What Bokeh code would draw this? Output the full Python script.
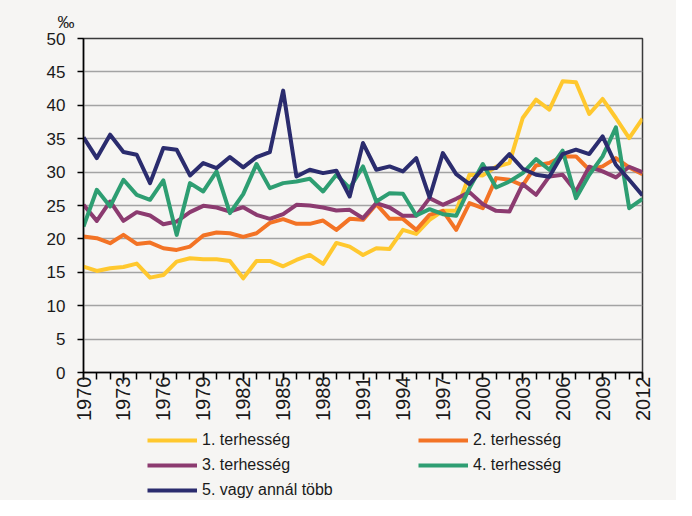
import math
from bokeh.plotting import figure
from bokeh.layouts import column
from bokeh.models import Range1d, FixedTicker, Legend, LegendItem
from bokeh.embed import file_html
from bokeh.resources import INLINE

years = list(range(1970, 2013))

first = [15.85, 15.2, 15.6, 15.8, 16.3, 14.2, 14.6, 16.6, 17.1, 16.95,
         16.95, 16.7, 14.1, 16.7, 16.7, 15.9, 16.85, 17.6, 16.25, 19.4,
         18.85, 17.6, 18.6, 18.5, 21.35, 20.75, 22.85, 24.2, 24.2, 29.6,
         29.5, 30.8, 31.35, 38.1, 40.85, 39.35, 43.6, 43.45, 38.7, 40.95,
         38.1, 35.1, 38.0]
second = [20.35, 20.1, 19.35, 20.6, 19.25, 19.45, 18.6, 18.35, 18.85, 20.5,
          20.95, 20.85, 20.3, 20.85, 22.4, 22.95, 22.25, 22.25, 22.75, 21.35,
          23.0, 22.85, 25.2, 23.0, 23.0, 21.35, 23.6, 24.2, 21.35, 25.35,
          24.6, 29.1, 28.85, 28.0, 31.0, 31.35, 32.35, 32.35, 30.35, 30.85,
          32.1, 30.7, 29.7]
third = [25.1, 22.7, 25.6, 22.7, 24.0, 23.5, 22.2, 22.6, 24.0, 24.95,
         24.7, 24.1, 24.75, 23.6, 23.0, 23.7, 25.1, 25.0, 24.7, 24.25,
         24.35, 23.1, 25.35, 24.7, 23.45, 23.45, 26.1, 25.1, 26.0, 27.0,
         25.2, 24.2, 24.1, 28.2, 26.6, 29.35, 29.6, 27.1, 30.8, 30.1,
         29.2, 30.8, 30.0]
fourth = [21.85, 27.35, 24.85, 28.85, 26.6, 25.85, 28.75, 20.6, 28.35, 27.1,
          30.1, 23.85, 26.7, 31.2, 27.6, 28.35, 28.6, 29.0, 27.1, 29.6,
          27.6, 30.85, 25.6, 26.85, 26.75, 23.5, 24.45, 23.7, 23.45, 27.6,
          31.2, 27.7, 28.6, 29.85, 31.95, 30.35, 33.2, 26.1, 29.6, 32.35,
          36.7, 24.6, 26.0]
fifth = [35.2, 32.1, 35.6, 33.0, 32.6, 28.35, 33.6, 33.35, 29.5, 31.35,
         30.6, 32.25, 30.7, 32.25, 33.0, 42.2, 29.35, 30.35, 29.85, 30.2,
         26.35, 34.35, 30.35, 30.85, 30.1, 32.1, 26.2, 32.85, 29.7, 28.2,
         30.5, 30.6, 32.7, 30.5, 29.6, 29.3, 32.7, 33.35, 32.7, 35.35,
         31.1, 28.85, 26.5]

series_names = ["1. terhesség", "2. terhesség", "3. terhesség",
                "4. terhesség", "5. vagy annál több"]
series_values = [first, second, third, fourth, fifth]
series_colors = ["#FFC82E", "#F37325", "#8C3B70", "#2E9E72", "#2B2C6E"]

y_ticks = list(range(0, 51, 5))
x_label_ticks = list(range(1970, 2013, 3))

BG = "#f6f5f3"
FONT = "Liberation Sans"
TXT = "#1a1a1a"

p = figure(width=676, height=430, output_backend="svg", toolbar_location=None,
           x_range=Range1d(1970, 2012), y_range=Range1d(0, 50),
           min_border_left=83, min_border_right=34, min_border_top=38,
           min_border_bottom=58,
           background_fill_color=BG, border_fill_color=BG,
           title="‰")

p.title.align = "left"
p.title.offset = -26
p.title.standoff = 14
p.title.text_font = FONT
p.title.text_font_size = "17px"
p.title.text_font_style = "normal"
p.title.text_color = TXT

p.outline_line_color = "#3a3a3a"
p.outline_line_width = 1.5

p.xgrid.grid_line_color = None
p.ygrid.grid_line_color = "#a3a3a3"
p.ygrid.grid_line_width = 1.5

# axes
p.yaxis.ticker = FixedTicker(ticks=y_ticks)
p.yaxis.axis_line_color = "black"
p.yaxis.axis_line_width = 1.5
p.yaxis.major_tick_line_color = "black"
p.yaxis.major_tick_line_width = 1.5
p.yaxis.major_tick_out = 6
p.yaxis.major_tick_in = 0
p.yaxis.minor_tick_line_color = None
p.yaxis.major_label_standoff = 12
p.yaxis.major_label_text_font = FONT
p.yaxis.major_label_text_font_size = "17px"
p.yaxis.major_label_text_color = TXT

p.xaxis.ticker = FixedTicker(ticks=x_label_ticks, minor_ticks=years)
p.xaxis.axis_line_color = "black"
p.xaxis.axis_line_width = 1.5
p.xaxis.major_tick_line_color = "black"
p.xaxis.major_tick_line_width = 1.5
p.xaxis.major_tick_out = 7
p.xaxis.major_tick_in = 0
p.xaxis.minor_tick_line_color = "black"
p.xaxis.minor_tick_line_width = 1.5
p.xaxis.minor_tick_out = 7
p.xaxis.minor_tick_in = 0
p.xaxis.major_label_orientation = math.pi / 2
p.xaxis.major_label_standoff = -3
p.xaxis.major_label_text_font = FONT
p.xaxis.major_label_text_font_size = "20px"
p.xaxis.major_label_text_color = TXT

for name, vals, col in zip(series_names, series_values, series_colors):
    p.line(years, vals, line_color=col, line_width=4, line_join="round")

# legend panel below the chart (its own frame is aligned with the chart's)
lg = figure(width=676, height=70, output_backend="svg", toolbar_location=None,
            x_range=Range1d(0, 1), y_range=Range1d(0, 1),
            x_axis_type=None, y_axis_type=None,
            min_border_left=0, min_border_right=0, min_border_top=0,
            min_border_bottom=0,
            background_fill_color=BG, background_fill_alpha=0,
            border_fill_color=BG)
lg.outline_line_color = None
lg.grid.visible = False

items = []
for name, vals, col in zip(series_names, series_values, series_colors):
    # same series, outside this panel's view: only their legend glyphs show
    r = lg.line(years, vals, line_color=col, line_width=4)
    items.append(LegendItem(label=name, renderers=[r]))

legend = Legend(items=items, orientation="horizontal", ncols=2,
                location=(64, 0), padding=0, margin=0, spacing=5,
                glyph_width=50, glyph_height=20, label_height=20,
                label_width=211, label_standoff=5,
                border_line_color=None, background_fill_alpha=0,
                label_text_font=FONT, label_text_font_size="16px",
                label_text_color=TXT)
lg.add_layout(legend, "center")

layout = column(p, lg, spacing=0, styles={"background-color": BG})

open("out.html", "w").write(file_html(layout, INLINE))
